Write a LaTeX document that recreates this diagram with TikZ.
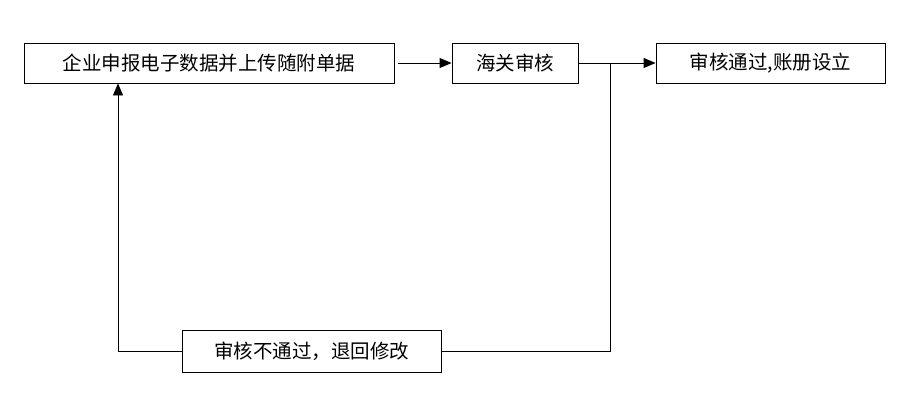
\documentclass[tikz,border=0pt]{standalone}
\usepackage{fontspec}
\setmainfont{Noto Sans CJK SC}
\usetikzlibrary{arrows.meta}
\begin{document}
\begin{tikzpicture}[x=1pt,y=-1pt,
  box/.style={draw,line width=0.9pt,rectangle,inner sep=0pt,font=\fontsize{19.5}{22}\selectfont},
  arr/.style={line width=0.9pt,-{Triangle[length=12pt,width=10pt]}}]
\useasboundingbox (0,0) rectangle (902,412);
\node[box,minimum width=370pt,minimum height=40pt] (a) at (209,63) {企业申报电子数据并上传随附单据};
\node[box,minimum width=126pt,minimum height=40pt] (b) at (515,63) {海关审核};
\node[box,minimum width=229pt,minimum height=40pt] (c) at (770.5,63) {审核通过,账册设立};
\node[box,minimum width=259pt,minimum height=42pt] (d) at (311.5,351) {审核不通过，退回修改};
\coordinate (j) at (610,63);
\coordinate (k) at (610,351);
\coordinate (m) at (118,351);
\draw[arr] (a.east) ++(4,0) -- (b.west);
\draw[arr] (b.east) -- (c.west);
\draw[line width=0.9pt] (j) -- (k) -- (d.east);
\draw[arr] (d.west) -- (m) -- (m |- a.south);
\end{tikzpicture}
\end{document}
